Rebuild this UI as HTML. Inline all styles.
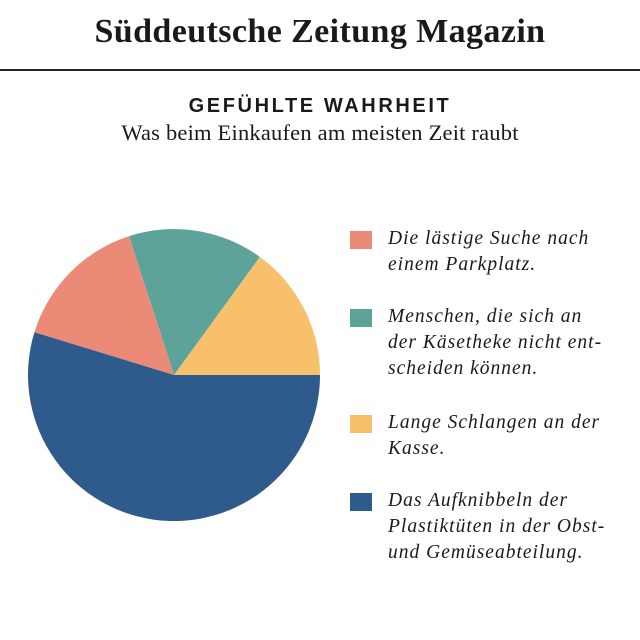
<!DOCTYPE html><html><head><style>
body{margin:0;width:640px;height:640px;background:#fff;position:relative;overflow:hidden;font-family:"Liberation Serif",serif;color:#1a1a1a}
.a{position:absolute;white-space:nowrap}
.leg{position:absolute;left:388px;font-style:italic;font-size:19.5px;line-height:26px;letter-spacing:1px}
.sq{position:absolute;left:350px;width:22px;height:18px}
</style></head><body>
<div class="a" style="left:0;width:640px;text-align:center;top:13px;font-size:34px;font-weight:bold;letter-spacing:0.4px">Süddeutsche Zeitung Magazin</div>
<div class="a" style="left:0;top:69px;width:640px;height:2px;background:#222"></div>
<div class="a" style="left:0;width:640px;text-align:center;top:95px;font-family:'Liberation Sans',sans-serif;font-weight:bold;font-size:20px;letter-spacing:2.6px">GEFÜHLTE WAHRHEIT</div>
<div class="a" style="left:0;width:640px;text-align:center;top:120px;font-size:22.5px;letter-spacing:0.2px">Was beim Einkaufen am meisten Zeit raubt</div>
<svg class="a" style="left:0;top:0" width="640" height="640">
<path d="M174 375 L320 375 A146 146 0 0 0 259.8 256.9Z" fill="#f8c06a"/>
<path d="M174 375 L259.8 256.9 A146 146 0 0 0 128.9 236.2Z" fill="#5ea39a"/>
<path d="M174 375 L128.9 236.2 A146 146 0 0 0 34.4 332.3Z" fill="#ec8a78"/>
<path d="M174 375 L34.4 332.3 A146 146 0 1 0 320 375Z" fill="#2f5a8c"/>
</svg>
<div class="sq" style="top:231px;background:#ec8a78"></div>
<div class="leg" style="top:226px">Die lästige Suche nach<br>einem Parkplatz.</div>
<div class="sq" style="top:309px;background:#5ea39a"></div>
<div class="leg" style="top:304px">Menschen, die sich an<br>der Käsetheke nicht ent-<br>scheiden können.</div>
<div class="sq" style="top:415px;background:#f8c06a"></div>
<div class="leg" style="top:410px">Lange Schlangen an der<br>Kasse.</div>
<div class="sq" style="top:493px;background:#2f5a8c"></div>
<div class="leg" style="top:488px">Das Aufknibbeln der<br>Plastiktüten in der Obst-<br>und Gemüseabteilung.</div>
</body></html>
